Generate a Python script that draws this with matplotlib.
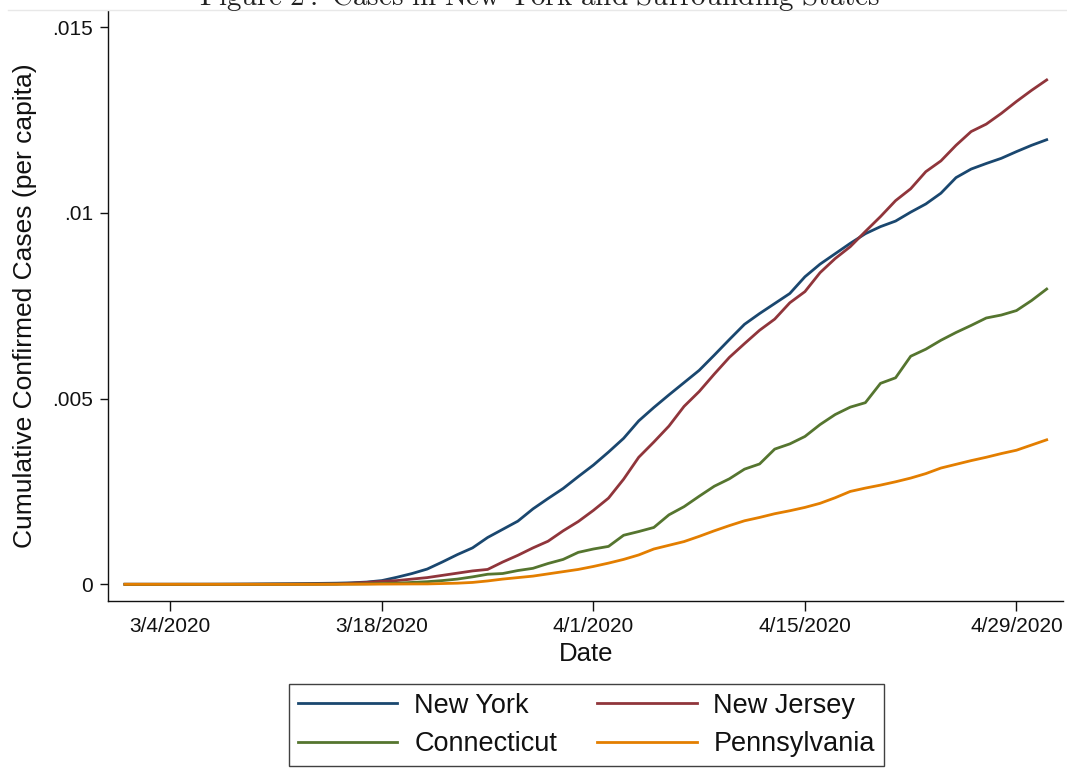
import numpy as np
import pandas as pd
import matplotlib
matplotlib.use("Agg")
import matplotlib.pyplot as plt
import matplotlib.dates as mdates
from matplotlib.lines import Line2D

plt.rcParams["font.family"] = ["Liberation Sans", "DejaVu Sans"]
plt.rcParams["mathtext.fontset"] = "cm"

# Daily dates, 1 March 2020 through 1 May 2020
dates = pd.date_range("2020-03-01", "2020-05-01", freq="D")

# Cumulative confirmed cases per capita
new_york = [
    0, 0, 0, 0, 0.000001, 0.000001, 0.000002, 0.000004, 0.000006, 0.00001,
    0.000013, 0.000016, 0.00002, 0.000025, 0.00003, 0.00004, 0.00006, 0.0001,
    0.00019, 0.00029, 0.00041, 0.0006, 0.0008, 0.00098, 0.00126, 0.00148,
    0.0017, 0.00203, 0.00231, 0.00258, 0.0029, 0.00321, 0.00356, 0.00393,
    0.0044, 0.00476, 0.0051, 0.00543, 0.00576, 0.00617, 0.00659, 0.007,
    0.00729, 0.00756, 0.00783, 0.00828, 0.00862, 0.0089, 0.00918, 0.00944,
    0.00963, 0.00978, 0.01002, 0.01024, 0.01053, 0.01095, 0.01118, 0.01133,
    0.01147, 0.01165, 0.01182, 0.01197,
]
new_jersey = [
    0, 0, 0, 0, 0, 0, 0, 0, 0.000001, 0.000001,
    0.000002, 0.000003, 0.000005, 0.000008, 0.00001, 0.00003, 0.00005, 0.00008,
    0.0001, 0.00014, 0.00018, 0.00024, 0.0003, 0.00036, 0.0004, 0.0006,
    0.00078, 0.00098, 0.00116, 0.00144, 0.00169, 0.00199, 0.00232, 0.00283,
    0.00342, 0.00383, 0.00426, 0.00479, 0.00519, 0.00566, 0.00611, 0.00648,
    0.00684, 0.00714, 0.00758, 0.00788, 0.00839, 0.00877, 0.00909, 0.0095,
    0.0099, 0.01033, 0.01065, 0.01111, 0.0114, 0.01182, 0.01219, 0.01239,
    0.01268, 0.013, 0.0133, 0.01358,
]
connecticut = [
    0, 0, 0, 0, 0, 0, 0, 0, 0, 0,
    0.000001, 0.000001, 0.000002, 0.000003, 0.000005, 0.000008, 0.000012, 0.00002,
    0.00003, 0.00005, 0.00007, 0.0001, 0.00014, 0.0002, 0.00027, 0.00029,
    0.00037, 0.00043, 0.00056, 0.00067, 0.00086, 0.00095, 0.00102, 0.00132,
    0.00142, 0.00153, 0.00187, 0.00209, 0.00237, 0.00264, 0.00284, 0.0031,
    0.00324, 0.00364, 0.00378, 0.00398, 0.0043, 0.00457, 0.00477, 0.00489,
    0.00541, 0.00556, 0.00614, 0.00633, 0.00657, 0.00678, 0.00697, 0.00717,
    0.00725, 0.00737, 0.00764, 0.00795,
]
pennsylvania = [
    0, 0, 0, 0, 0, 0, 0, 0, 0, 0,
    0, 0, 0.000001, 0.000001, 0.000002, 0.000003, 0.000004, 0.000005,
    0.000007, 0.000009, 0.00001, 0.00002, 0.00003, 0.00005, 0.00009, 0.00014,
    0.00018, 0.00022, 0.00028, 0.00034, 0.0004, 0.00048, 0.00057, 0.00067,
    0.00079, 0.00095, 0.00105, 0.00115, 0.00129, 0.00144, 0.00158, 0.00171,
    0.0018, 0.0019, 0.00198, 0.00207, 0.00218, 0.00233, 0.0025, 0.00259,
    0.00267, 0.00276, 0.00286, 0.00298, 0.00313, 0.00323, 0.00333, 0.00342,
    0.00352, 0.00361, 0.00375, 0.00389,
]

series_names = ["New York", "New Jersey", "Connecticut", "Pennsylvania"]
series_colors = ["#1a476f", "#90353b", "#55752f", "#e37e00"]

y_ticks = [0, 0.005, 0.01, 0.015]
y_tick_labels = ["0", ".005", ".01", ".015"]
x_tick_dates = pd.to_datetime(["2020-03-04", "2020-03-18", "2020-04-01",
                               "2020-04-15", "2020-04-29"])
x_tick_labels = ["3/4/2020", "3/18/2020", "4/1/2020", "4/15/2020", "4/29/2020"]

W, H = 1067, 769
fig = plt.figure(figsize=(W / 100, H / 100), dpi=100)
ax = fig.add_axes([108.3 / W, 1 - 601 / H, (1063 - 108.3) / W, (601 - 11) / H])

all_series = [new_york, new_jersey, connecticut, pennsylvania]
handles = []
for vals, name, col in zip(all_series, series_names, series_colors):
    ln, = ax.plot(dates, vals, color=col, lw=2.0, label=name,
                  solid_joinstyle="round")
    handles.append(ln)

start = pd.Timestamp("2020-03-01")
ax.set_xlim(start - pd.Timedelta(days=1.105), start + pd.Timedelta(days=62.08))
ax.set_ylim(-0.00045, 0.015436)

ax.set_yticks(y_ticks)
ax.set_yticklabels(y_tick_labels)
ax.set_xticks(x_tick_dates)
ax.set_xticklabels(x_tick_labels)

for s in ["top", "right"]:
    ax.spines[s].set_visible(False)
for s in ["left", "bottom"]:
    ax.spines[s].set_linewidth(1.0)
    ax.spines[s].set_color("#111111")

ax.tick_params(axis="y", direction="out", length=6, width=1.0, pad=5,
               labelsize=15, colors="#111111")
ax.tick_params(axis="x", direction="out", length=7.5, width=1.0, pad=4,
               labelsize=15, colors="#111111")

ax.set_xlabel("Date", fontsize=18.5, labelpad=4, color="#111111")
ax.set_ylabel("Cumulative Confirmed Cases (per capita)", fontsize=19,
              labelpad=11, color="#111111")

# Title running off the top edge of the page
fig.text(540 / W, 1 - 5 / H,
         r"$\mathrm{Figure\ 2{:}\ Cases\ in\ New\ York\ and\ Surrounding\ States}$",
         ha="center", va="baseline", fontsize=21, color="#222222")
fig.add_artist(Line2D([8 / W, 1], [1 - 10 / H, 1 - 10 / H],
                      transform=fig.transFigure, color="#e8e8e8", lw=1))

# Legend rows: New York / New Jersey, then Connecticut / Pennsylvania
order = [0, 2, 1, 3]
leg = fig.legend([handles[i] for i in order], [series_names[i] for i in order],
                 ncol=2, loc="center",
                 bbox_to_anchor=(586.5 / W, 1 - 725 / H),
                 fontsize=19.5, frameon=True, fancybox=False,
                 edgecolor="#111111", handlelength=3.67, handletextpad=0.62,
                 columnspacing=1.48, labelspacing=0.45, borderpad=0.33,
                 borderaxespad=0)
leg.get_frame().set_linewidth(1.0)
for t in leg.get_texts():
    t.set_color("#111111")

fig.savefig("out.png", dpi=100)
